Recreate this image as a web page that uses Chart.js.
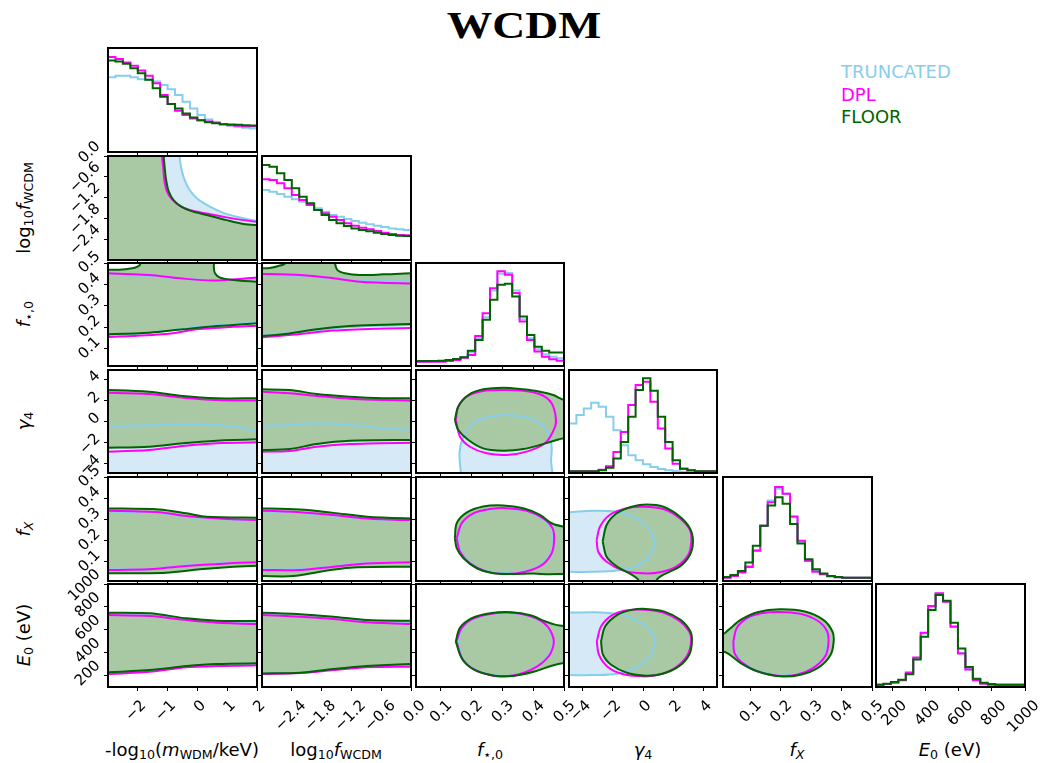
<!DOCTYPE html>
<html><head><meta charset="utf-8">
<script src="https://cdn.jsdelivr.net/npm/chart.js@4.4.1/dist/chart.umd.min.js"></script>
<style>
html,body{margin:0;padding:0;background:#fff;}
body{width:1044px;height:763px;position:relative;overflow:hidden;font-family:"DejaVu Sans",sans-serif;}
canvas{position:absolute;}
.t{position:absolute;white-space:nowrap;color:#000;font-size:18px;line-height:22px;text-align:center;width:220px;}
.t sub{font-size:70%;vertical-align:-0.25em;line-height:0;}
.r{transform:rotate(-90deg);}
#title{position:absolute;left:374px;top:6px;width:300px;text-align:center;font-family:"Liberation Serif",serif;font-weight:bold;font-size:38px;line-height:38px;transform:scaleX(1.2);}
#legend{position:absolute;left:841px;top:61px;font-size:18px;line-height:22.5px;}
</style></head><body>
<div id="title">WCDM</div>
<div id="legend"><div style="color:#87ceeb">TRUNCATED</div><div style="color:#ff00ff">DPL</div><div style="color:#006400">FLOOR</div></div>
<div class="t" style="left:72px;top:739px">-log<sub>10</sub>(<i>m</i><sub>WDM</sub>/keV)</div>
<div class="t" style="left:226px;top:739px">log<sub>10</sub><i>f</i><sub>WCDM</sub></div>
<div class="t" style="left:380px;top:739px"><i>f</i><sub>⋆,0</sub></div>
<div class="t" style="left:533px;top:739px"><i>γ</i><sub>4</sub></div>
<div class="t" style="left:687px;top:739px"><i>f</i><sub><i>X</i></sub></div>
<div class="t" style="left:840px;top:739px"><i>E</i><sub>0</sub> (eV)</div>
<div class="t r" style="left:-86px;top:197px">log<sub>10</sub><i>f</i><sub>WCDM</sub></div>
<div class="t r" style="left:-86px;top:303px"><i>f</i><sub>⋆,0</sub></div>
<div class="t r" style="left:-86px;top:410px"><i>γ</i><sub>4</sub></div>
<div class="t r" style="left:-86px;top:518px"><i>f</i><sub><i>X</i></sub></div>
<div class="t r" style="left:-86px;top:624px"><i>E</i><sub>0</sub> (eV)</div>
<script>
// ================= DATA =================
const axisMin = [-3, -3, 0.02, -4.9, 0.01, 100];
const axisMax = [2, 0, 0.5, 4.9, 0.5, 1000];
const tickValues = [[-2,-1,0,1,2],[-2.4,-1.8,-1.2,-0.6,0],[0.1,0.2,0.3,0.4,0.5],[-4,-2,0,2,4],[0.1,0.2,0.3,0.4,0.5],[200,400,600,800,1000]];
const tickLabels = [['−2','−1','0','1','2'],['−2.4','−1.8','−1.2','−0.6','0.0'],['0.1','0.2','0.3','0.4','0.5'],['−4','−2','0','2','4'],['0.1','0.2','0.3','0.4','0.5'],['200','400','600','800','1000']];

// 1D histograms (bin edges + normalised heights)
const edges00 = [-3,-2.75,-2.5,-2.25,-2,-1.75,-1.5,-1.25,-1,-0.75,-0.5,-0.25,0,0.25,0.5,0.75,1,1.25,1.5,1.75,2];
const h00_trunc = [0.719,0.732,0.732,0.719,0.700,0.694,0.677,0.645,0.603,0.548,0.484,0.419,0.355,0.313,0.287,0.268,0.255,0.242,0.232,0.226];
const h00_dpl   = [0.913,0.894,0.861,0.829,0.784,0.732,0.661,0.548,0.461,0.397,0.355,0.323,0.306,0.294,0.281,0.268,0.258,0.252,0.248,0.248];
const h00_floor = [0.881,0.871,0.848,0.806,0.758,0.694,0.613,0.532,0.461,0.419,0.371,0.332,0.306,0.287,0.277,0.268,0.265,0.261,0.258,0.255];

const edges11 = [-3,-2.85,-2.7,-2.55,-2.4,-2.25,-2.1,-1.95,-1.8,-1.65,-1.5,-1.35,-1.2,-1.05,-0.9,-0.75,-0.6,-0.45,-0.3,-0.15,0];
const h11_trunc = [0.673,0.657,0.635,0.609,0.583,0.561,0.529,0.497,0.465,0.433,0.417,0.394,0.375,0.359,0.343,0.330,0.317,0.304,0.295,0.288];
const h11_dpl   = [0.776,0.769,0.737,0.689,0.625,0.577,0.529,0.481,0.449,0.417,0.385,0.353,0.330,0.311,0.295,0.279,0.263,0.250,0.240,0.237];
const h11_floor = [0.913,0.897,0.833,0.769,0.689,0.609,0.545,0.481,0.433,0.385,0.353,0.327,0.304,0.288,0.276,0.263,0.250,0.240,0.234,0.231];

const edges22 = [0.02,0.044,0.068,0.092,0.116,0.14,0.164,0.188,0.212,0.236,0.26,0.284,0.308,0.332,0.356,0.38,0.404,0.428,0.452,0.476,0.5];
const h22_trunc = [0.042,0.042,0.045,0.049,0.058,0.068,0.084,0.130,0.269,0.474,0.734,0.896,0.903,0.734,0.455,0.269,0.162,0.114,0.091,0.075];
const h22_dpl   = [0.042,0.042,0.042,0.042,0.049,0.058,0.081,0.107,0.292,0.513,0.756,0.919,0.886,0.708,0.432,0.253,0.140,0.091,0.065,0.052];
const h22_floor = [0.049,0.049,0.049,0.052,0.058,0.068,0.084,0.149,0.253,0.448,0.643,0.789,0.799,0.675,0.481,0.302,0.188,0.149,0.130,0.130];

const edges33 = [-4.9,-4.41,-3.92,-3.43,-2.94,-2.45,-1.96,-1.47,-0.98,-0.49,0,0.49,0.98,1.47,1.96,2.45,2.94,3.43,3.92,4.41,4.9];
const h33_trunc = [0.481,0.562,0.627,0.682,0.643,0.545,0.416,0.269,0.172,0.123,0.084,0.058,0.039,0.026,0.016,0.010,0.006,0.003,0.003,0.003];
const h33_dpl   = [0.016,0.016,0.016,0.016,0.032,0.065,0.205,0.399,0.659,0.854,0.886,0.692,0.432,0.237,0.091,0.042,0.026,0.016,0.016,0.016];
const h33_floor = [0.016,0.016,0.016,0.016,0.026,0.052,0.140,0.302,0.545,0.805,0.919,0.799,0.545,0.302,0.123,0.042,0.026,0.016,0.016,0.016];

const edges44 = [0.01,0.0345,0.059,0.0835,0.108,0.1325,0.157,0.1815,0.206,0.2305,0.255,0.2795,0.304,0.3285,0.353,0.3775,0.402,0.4265,0.451,0.4755,0.5];
const h44_trunc = [0.032,0.048,0.087,0.145,0.297,0.532,0.774,0.887,0.839,0.613,0.371,0.194,0.097,0.065,0.045,0.035,0.032,0.032,0.032,0.032];
const h44_dpl   = [0.032,0.048,0.081,0.135,0.290,0.532,0.758,0.903,0.839,0.619,0.387,0.194,0.090,0.065,0.045,0.035,0.032,0.032,0.032,0.032];
const h44_floor = [0.039,0.058,0.097,0.177,0.339,0.532,0.726,0.806,0.742,0.548,0.361,0.210,0.113,0.071,0.048,0.039,0.032,0.032,0.032,0.032];

const edges55 = [100,145,190,235,280,325,370,415,460,505,550,595,640,685,730,775,820,865,910,955,1000];
const h55_trunc = [0.023,0.030,0.045,0.068,0.135,0.280,0.520,0.780,0.905,0.830,0.590,0.330,0.172,0.068,0.033,0.024,0.023,0.023,0.023,0.023];
const h55_dpl   = [0.023,0.029,0.042,0.065,0.140,0.286,0.526,0.786,0.909,0.828,0.584,0.325,0.169,0.065,0.032,0.023,0.023,0.023,0.023,0.023];
const h55_floor = [0.023,0.032,0.049,0.071,0.123,0.266,0.487,0.747,0.893,0.838,0.623,0.373,0.195,0.081,0.042,0.029,0.023,0.023,0.023,0.023];

// 2D credible-region outlines [x, y] (points outside the frame close the regions)
const c10_trunc = [[-0.60,0.3],[-0.60,0],[-0.54,-0.36],[-0.43,-0.69],[-0.26,-0.98],[0.02,-1.25],[0.42,-1.46],[0.87,-1.64],[1.32,-1.75],[2.0,-1.87],[2.4,-1.9],[2.4,-3.4],[-3.4,-3.4],[-3.4,0.3]];
const c10_dpl   = [[-1.19,0.3],[-1.19,0],[-1.15,-0.31],[-1.11,-0.69],[-1.02,-1.03],[-0.85,-1.25],[-0.60,-1.43],[-0.26,-1.56],[0.31,-1.66],[0.98,-1.77],[1.55,-1.85],[2.0,-1.90],[2.4,-1.92],[2.4,-3.4],[-3.4,-3.4],[-3.4,0.3]];
const c10_floor = [[-1.13,0.3],[-1.13,0],[-1.10,-0.31],[-1.05,-0.69],[-0.96,-1.03],[-0.80,-1.27],[-0.54,-1.46],[-0.20,-1.59],[0.31,-1.70],[0.98,-1.85],[1.55,-1.96],[2.0,-1.99],[2.4,-2.0],[2.4,-3.4],[-3.4,-3.4],[-3.4,0.3]];

const c20_trunc = [[-3.4,0.445],[-3,0.445],[-1.62,0.44],[-0.6,0.428],[0.53,0.42],[2.0,0.425],[2.4,0.425],[2.4,0.222],[2.0,0.222],[0.645,0.212],[-0.49,0.195],[-1.62,0.175],[-3,0.165],[-3.4,0.165]];
const c20_dpl   = [[-3.4,0.452],[-3,0.452],[-1.62,0.444],[-0.60,0.429],[0.53,0.418],[2.0,0.432],[2.4,0.435],[2.4,0.208],[2.0,0.208],[0.08,0.192],[-1.05,0.169],[-3,0.155],[-3.4,0.155]];
const c20_floor = [[-3.4,0.168],[-3,0.168],[-1.62,0.175],[-0.49,0.191],[0.645,0.206],[2.0,0.219],[2.4,0.222],[2.4,0.413],[2.0,0.413],[1.21,0.421],[0.76,0.432],[0.59,0.452],[0.55,0.483],[0.55,0.56],[-1.90,0.56],[-1.90,0.5],[-2.01,0.483],[-2.24,0.474],[-2.63,0.469],[-3.0,0.469],[-3.4,0.469]];

const c30_trunc = [[-3.4,-0.43],[-3,-0.43],[-1.62,-0.36],[-0.49,-0.27],[0.645,-0.33],[1.5,-0.6],[2.0,-0.9],[2.4,-1.0],[2.4,-5.5],[-3.4,-5.5]];
const c30_dpl   = [[-3.4,2.74],[-3,2.74],[-1.62,2.61],[-0.49,2.27],[0.645,2.05],[2.0,1.99],[2.4,1.99],[2.4,-1.98],[2.0,-1.98],[0.645,-2.07],[-0.49,-2.33],[-1.62,-2.71],[-3,-2.87],[-3.4,-2.87]];
const c30_floor = [[-3.4,3.0],[-3,3.0],[-1.62,2.84],[-0.49,2.43],[0.645,2.21],[2.0,2.21],[2.4,2.21],[2.4,-1.69],[2.0,-1.69],[0.645,-1.83],[-0.49,-2.07],[-1.62,-2.40],[-3,-2.49],[-3.4,-2.49]];

const c40_trunc = [[-3.4,0.337],[-3,0.337],[-1.28,0.33],[-0.37,0.313],[0.99,0.3],[2.0,0.295],[2.4,0.295],[2.4,0.1],[2.0,0.1],[0.99,0.095],[-0.49,0.083],[-1.62,0.068],[-3,0.065],[-3.4,0.065]];
const c40_dpl   = [[-3.4,0.341],[-3,0.341],[-1.28,0.334],[-0.37,0.316],[0.99,0.302],[2.0,0.297],[2.4,0.297],[2.4,0.098],[2.0,0.098],[0.99,0.093],[-0.49,0.080],[-1.62,0.065],[-3,0.062],[-3.4,0.062]];
const c40_floor = [[-3.4,0.352],[-3,0.352],[-1.28,0.347],[-0.37,0.329],[0.31,0.313],[2.0,0.308],[2.4,0.308],[2.4,0.082],[2.0,0.082],[1.21,0.077],[0.08,0.065],[-1.05,0.049],[-3,0.046],[-3.4,0.046]];

const c50_trunc = [[-3.4,735],[-3,735],[-1.6,725],[-0.36,690],[0.65,667],[2.0,655],[2.4,655],[2.4,295],[2.0,295],[0.65,290],[-0.36,278],[-1.6,240],[-3,220],[-3.4,220]];
const c50_dpl   = [[-3.4,729],[-3,729],[-1.6,720],[-0.36,685],[0.65,662],[2.0,650],[2.4,650],[2.4,289],[2.0,289],[0.65,283],[-0.36,272],[-1.6,233],[-3,213],[-3.4,213]];
const c50_floor = [[-3.4,749],[-3,749],[-1.6,744],[-0.36,700],[0.65,679],[2.0,677],[2.4,677],[2.4,307],[2.0,307],[0.65,301],[-0.36,283],[-1.6,248],[-3,228],[-3.4,228]];

const c21_trunc = [[-3.3,0.445],[-3,0.445],[-2.23,0.44],[-1.56,0.428],[-1.03,0.418],[0,0.415],[0.3,0.415],[0.3,0.21],[0,0.21],[-0.66,0.207],[-1.56,0.195],[-2.23,0.178],[-3,0.165],[-3.3,0.165]];
const c21_dpl   = [[-3.3,0.449],[-3,0.449],[-2.23,0.444],[-1.56,0.429],[-1.03,0.413],[0,0.405],[0.3,0.405],[0.3,0.197],[0,0.197],[-0.66,0.194],[-1.56,0.185],[-2.23,0.169],[-3,0.154],[-3.3,0.154]];
const c21_floor = [[-3.3,0.16],[-3,0.16],[-2.44,0.172],[-1.90,0.191],[-1.23,0.206],[-0.56,0.212],[0,0.216],[0.3,0.216],[0.3,0.452],[0,0.452],[-0.56,0.447],[-1.03,0.444],[-1.33,0.452],[-1.48,0.467],[-1.53,0.5],[-1.53,0.56],[-2.53,0.56],[-2.53,0.5],[-2.67,0.486],[-2.84,0.477],[-3,0.475],[-3.3,0.475]];

const c31_trunc = [[-3.3,-0.40],[-3,-0.40],[-2.44,-0.33],[-1.90,-0.17],[-1.23,-0.33],[-0.56,-0.65],[0,-0.81],[0.3,-0.85],[0.3,-5.5],[-3.3,-5.5]];
const c31_dpl   = [[-3.3,2.84],[-3,2.84],[-2.44,2.68],[-1.90,2.43],[-1.23,2.17],[0,1.98],[0.3,1.98],[0.3,-2.02],[0,-2.02],[-1.23,-2.14],[-1.90,-2.40],[-2.44,-2.81],[-3,-2.87],[-3.3,-2.87]];
const c31_floor = [[-3.3,3.06],[-3,3.06],[-2.44,3.0],[-1.90,2.62],[-1.23,2.36],[-0.56,2.21],[0,2.21],[0.3,2.21],[0.3,-1.76],[0,-1.76],[-1.23,-1.83],[-1.90,-2.14],[-2.44,-2.62],[-3,-2.71],[-3.3,-2.71]];

const c41_trunc = [[-3.3,0.337],[-3,0.337],[-2.23,0.33],[-1.56,0.318],[-0.89,0.302],[0,0.295],[0.3,0.295],[0.3,0.1],[0,0.1],[-0.89,0.095],[-1.56,0.08],[-2.23,0.066],[-3,0.065],[-3.3,0.065]];
const c41_dpl   = [[-3.3,0.341],[-3,0.341],[-2.23,0.334],[-1.56,0.321],[-0.89,0.305],[0,0.297],[0.3,0.297],[0.3,0.098],[0,0.098],[-0.89,0.093],[-1.56,0.077],[-2.23,0.062],[-3,0.062],[-3.3,0.062]];
const c41_floor = [[-3.3,0.352],[-3,0.352],[-2.23,0.347],[-1.56,0.331],[-0.89,0.313],[0,0.305],[0.3,0.305],[0.3,0.077],[0,0.077],[-1.23,0.073],[-1.83,0.054],[-2.37,0.033],[-3,0.033],[-3.3,0.033]];

const c51_trunc = [[-3.3,735],[-3,735],[-2.23,720],[-1.56,700],[-0.89,672],[0,658],[0.3,658],[0.3,292],[0,292],[-0.89,280],[-1.56,255],[-2.23,228],[-3,222],[-3.3,222]];
const c51_dpl   = [[-3.3,729],[-3,729],[-2.23,714],[-1.56,694],[-0.89,665],[0,650],[0.3,650],[0.3,277],[0,277],[-0.89,272],[-1.56,248],[-2.23,222],[-3,213],[-3.3,213]];
const c51_floor = [[-3.3,749],[-3,749],[-2.23,736],[-1.56,714],[-0.89,685],[0,679],[0.3,679],[0.3,301],[0,301],[-0.89,283],[-1.56,257],[-2.23,225],[-3,219],[-3.3,219]];

const c32_trunc = [[0.168,-5.5],[0.161,-3.03],[0.174,-1.45],[0.206,-0.17],[0.249,0.40],[0.303,0.62],[0.368,0.46],[0.422,-0.17],[0.449,-1.12],[0.46,-2.40],[0.458,-3.66],[0.455,-5.5]];
const c32_dpl   = [[0.149,0.14],[0.163,-1.45],[0.195,-2.40],[0.249,-3.03],[0.314,-3.19],[0.379,-2.87],[0.438,-2.08],[0.471,-0.5],[0.473,0.46],[0.46,1.73],[0.428,2.52],[0.368,2.93],[0.303,3.0],[0.238,2.9],[0.184,2.36],[0.157,1.41]];
const c32_floor = [[0.146,0.14],[0.157,1.41],[0.190,2.52],[0.238,3.06],[0.303,3.22],[0.368,3.06],[0.422,2.84],[0.465,2.52],[0.5,2.05],[0.54,1.95],[0.54,-1.65],[0.5,-1.60],[0.465,-1.86],[0.422,-2.24],[0.368,-2.62],[0.303,-2.78],[0.238,-2.56],[0.19,-1.76],[0.157,-0.81]];

const c42_trunc = [[0.155,0.211],[0.17,0.28],[0.207,0.326],[0.26,0.346],[0.314,0.35],[0.378,0.338],[0.43,0.303],[0.46,0.256],[0.465,0.203],[0.457,0.143],[0.426,0.088],[0.373,0.057],[0.314,0.047],[0.25,0.057],[0.197,0.095],[0.165,0.15]];
const c42_dpl   = [[0.152,0.211],[0.168,0.282],[0.206,0.329],[0.26,0.349],[0.314,0.353],[0.379,0.341],[0.433,0.305],[0.463,0.258],[0.468,0.203],[0.46,0.141],[0.428,0.085],[0.374,0.054],[0.314,0.043],[0.249,0.054],[0.195,0.093],[0.163,0.148]];
const c42_floor = [[0.146,0.211],[0.152,0.282],[0.184,0.332],[0.238,0.361],[0.303,0.366],[0.368,0.353],[0.422,0.322],[0.46,0.282],[0.5,0.266],[0.54,0.262],[0.54,0.043],[0.5,0.043],[0.45,0.042],[0.40,0.045],[0.336,0.043],[0.271,0.046],[0.217,0.07],[0.174,0.117],[0.152,0.165]];

const c52_trunc = [[0.155,498],[0.172,612],[0.21,698],[0.308,746],[0.392,713],[0.444,626],[0.463,498],[0.447,369],[0.392,254],[0.314,197],[0.237,226],[0.178,326]];
const c52_dpl   = [[0.151,498],[0.168,614],[0.208,701],[0.308,750],[0.394,716],[0.447,628],[0.467,498],[0.45,367],[0.394,251],[0.314,193],[0.235,222],[0.175,323]];
const c52_floor = [[0.149,498],[0.162,614],[0.201,701],[0.261,744],[0.328,753],[0.394,724],[0.44,672],[0.474,643],[0.5,634],[0.54,632],[0.54,309],[0.5,309],[0.46,286],[0.407,237],[0.341,199],[0.275,199],[0.208,251],[0.168,353]];

const c43_trunc = [[-5.4,0.334],[-4.9,0.334],[-3.29,0.341],[-1.74,0.336],[-0.64,0.313],[0.25,0.266],[0.74,0.203],[0.49,0.134],[-0.42,0.081],[-1.74,0.059],[-3.29,0.053],[-4.9,0.053],[-5.4,0.053]];
const c43_dpl   = [[-3.07,0.203],[-2.85,0.266],[-2.19,0.322],[-1.08,0.353],[0.03,0.36],[1.35,0.349],[2.45,0.305],[3.11,0.25],[3.2,0.197],[3.0,0.134],[2.23,0.079],[1.13,0.051],[0.03,0.046],[-1.3,0.059],[-2.41,0.101],[-2.96,0.148]];
const c43_floor = [[-2.67,0.197],[-2.41,0.274],[-1.74,0.329],[-0.75,0.36],[0.25,0.371],[1.35,0.36],[2.45,0.313],[3.11,0.258],[3.31,0.197],[3.11,0.134],[2.45,0.079],[1.35,0.04],[0.91,0.015],[0.9,-0.03],[-0.3,-0.03],[-0.31,0.015],[-0.75,0.04],[-1.74,0.079],[-2.41,0.124]];

const c53_trunc = [[-5.4,750],[-4.9,750],[-3.06,753],[-1.42,730],[-0.07,657],[0.61,570],[0.80,498],[0.53,382],[-0.34,280],[-1.70,216],[-3.32,204],[-4.9,204],[-5.4,204]];
const c53_dpl   = [[-3.06,498],[-2.78,628],[-2.11,721],[-1.15,768],[0.07,776],[1.29,753],[2.37,681],[3.06,585],[3.19,498],[2.92,373],[2.10,265],[1.02,207],[-0.07,193],[-1.42,216],[-2.37,280],[-2.92,382]];
const c53_floor = [[-2.78,498],[-2.51,628],[-1.70,730],[-0.75,774],[0.2,782],[1.42,759],[2.51,686],[3.14,585],[3.24,498],[3.06,382],[2.37,280],[1.29,216],[0.2,199],[-1.02,222],[-2.11,294],[-2.65,382]];

const c54_trunc = [[0.048,498],[0.058,612],[0.092,698],[0.137,740],[0.197,752],[0.264,736],[0.318,679],[0.348,593],[0.354,498],[0.344,375],[0.304,268],[0.251,211],[0.19,203],[0.125,240],[0.078,311],[0.051,397]];
const c54_dpl   = [[0.044,498],[0.055,614],[0.089,701],[0.136,744],[0.197,756],[0.265,739],[0.32,681],[0.351,594],[0.357,498],[0.347,373],[0.306,265],[0.252,207],[0.19,199],[0.123,237],[0.075,309],[0.048,396]];
const c54_floor = [[-0.03,562],[0.01,562],[0.028,599],[0.068,686],[0.123,753],[0.197,779],[0.279,759],[0.34,686],[0.37,585],[0.374,498],[0.364,382],[0.326,274],[0.265,207],[0.197,193],[0.123,237],[0.068,309],[0.028,390],[0.01,411],[-0.03,411]];

// ================= TABLES =================
const hists = {
  0:{edges:edges00, trunc:h00_trunc, dpl:h00_dpl, floor:h00_floor},
  1:{edges:edges11, trunc:h11_trunc, dpl:h11_dpl, floor:h11_floor},
  2:{edges:edges22, trunc:h22_trunc, dpl:h22_dpl, floor:h22_floor},
  3:{edges:edges33, trunc:h33_trunc, dpl:h33_dpl, floor:h33_floor},
  4:{edges:edges44, trunc:h44_trunc, dpl:h44_dpl, floor:h44_floor},
  5:{edges:edges55, trunc:h55_trunc, dpl:h55_dpl, floor:h55_floor}
};
const contours = {
  '10':{trunc:c10_trunc,dpl:c10_dpl,floor:c10_floor}, '20':{trunc:c20_trunc,dpl:c20_dpl,floor:c20_floor},
  '30':{trunc:c30_trunc,dpl:c30_dpl,floor:c30_floor}, '40':{trunc:c40_trunc,dpl:c40_dpl,floor:c40_floor},
  '50':{trunc:c50_trunc,dpl:c50_dpl,floor:c50_floor}, '21':{trunc:c21_trunc,dpl:c21_dpl,floor:c21_floor},
  '31':{trunc:c31_trunc,dpl:c31_dpl,floor:c31_floor}, '41':{trunc:c41_trunc,dpl:c41_dpl,floor:c41_floor},
  '51':{trunc:c51_trunc,dpl:c51_dpl,floor:c51_floor}, '32':{trunc:c32_trunc,dpl:c32_dpl,floor:c32_floor},
  '42':{trunc:c42_trunc,dpl:c42_dpl,floor:c42_floor}, '52':{trunc:c52_trunc,dpl:c52_dpl,floor:c52_floor},
  '43':{trunc:c43_trunc,dpl:c43_dpl,floor:c43_floor}, '53':{trunc:c53_trunc,dpl:c53_dpl,floor:c53_floor},
  '54':{trunc:c54_trunc,dpl:c54_dpl,floor:c54_floor}
};

// ================= STYLE / LAYOUT =================
const STY = {
  trunc:{line:'#87ceeb', fill:'#d5eaf6', order:2},
  dpl:{line:'#ff00ff', fill:null, order:1},
  floor:{line:'#006400', fill:'#a9c9a5', order:0}
};
const colPx = [[108,257],[262,411],[416,564],[569,717],[723,872],[876,1025]];
const rowPx = [[48,152],[156,260],[263,366],[370,473],[477,581],[584,687]];
const TICK_FONT = 15;
const xLabShift = [6, 12, 9, 6, 9, 12];
const yLabShift = [0, -12, -9, -6, -9, -12];

Chart.defaults.font.family = '"DejaVu Sans", sans-serif';
const framePlugin = {id:'frame', afterDraw(ch){const a=ch.chartArea,c=ch.ctx;c.save();c.strokeStyle='#000';c.lineWidth=2;c.strokeRect(a.left,a.top,a.right-a.left,a.bottom-a.top);c.restore();}};

function histSet(edges, vals, key){
  const s = STY[key];
  return {data: edges.map((e,k)=>({x:e, y:vals[Math.min(k, vals.length-1)]})), stepped:'before', borderColor:s.line, borderWidth:2, fill:false, pointRadius:0, order:s.order};
}
function contSet(poly, key){
  const s = STY[key];
  const pts = poly.map(p=>({x:p[0], y:p[1]}));
  pts.push({x:poly[0][0], y:poly[0][1]});
  return {data:pts, borderColor:s.line, borderWidth:2, backgroundColor:s.fill||'rgba(0,0,0,0)', fill: s.fill ? 'shape' : false, tension:0.3, pointRadius:0, order:s.order};
}

function axisCfg(v, pos, showLabels, showTicks, size, shift){
  return {
    type:'linear', position:pos, min:axisMin[v], max:axisMax[v], bounds:'data',
    grid:{display:showTicks, drawOnChartArea:false, drawTicks:true, tickLength:4, color:'#000', lineWidth:1},
    border:{display:false},
    ticks:{display:showLabels, autoSkip:false, minRotation:45, maxRotation:45, padding:6, color:'#000', font:{size:TICK_FONT}, labelOffset:shift,
           callback:(val, idx)=>tickLabels[v][idx]},
    afterBuildTicks: ax => { ax.ticks = tickValues[v].map(t=>({value:t})); },
    afterFit: ax => { if (pos==='bottom') ax.height = size; else ax.width = size; ax.paddingLeft=0; ax.paddingRight=0; ax.paddingTop=0; ax.paddingBottom=0; }
  };
}

function panel(i, j){
  const [x0,x1] = colPx[j], [y0,y1] = rowPx[i];
  const padL = j===0 ? x0 : 8, padT = j===0 ? 24 : 4, padR = i===5 ? 26 : 4, padB = i===5 ? 76 : 8;
  const W = x1-x0+padL+padR, H = y1-y0+padT+padB;
  const cv = document.createElement('canvas');
  cv.width = W; cv.height = H;
  cv.style.left = (x0-padL)+'px'; cv.style.top = (y0-padT)+'px';
  cv.style.width = W+'px'; cv.style.height = H+'px';
  document.body.appendChild(cv);
  let datasets, yScale;
  if (i===j){
    const h = hists[i];
    datasets = ['trunc','dpl','floor'].map(k=>histSet(h.edges, h[k], k));
    yScale = {type:'linear', position:'left', min:0, max:1, grid:{display:false}, border:{display:false}, ticks:{display:false},
              afterFit: ax => { ax.width = padL; ax.paddingTop=0; ax.paddingBottom=0; ax.paddingLeft=0; ax.paddingRight=0; }};
  } else {
    const c = contours[''+i+j];
    datasets = ['trunc','dpl','floor'].map(k=>contSet(c[k], k));
    yScale = axisCfg(i, 'left', j===0, true, padL, yLabShift[i]);
  }
  new Chart(cv, {
    type:'line',
    data:{datasets},
    options:{
      responsive:false, maintainAspectRatio:false, animation:false, devicePixelRatio:1,
      layout:{padding:{top:padT, right:padR, left:0, bottom:0}},
      elements:{point:{radius:0}, line:{capBezierPoints:false}},
      plugins:{legend:{display:false}, tooltip:{enabled:false}, filler:{drawTime:'beforeDatasetsDraw'}},
      scales:{ x: axisCfg(j, 'bottom', i===5, true, padB, xLabShift[j]), y: yScale }
    },
    plugins:[framePlugin]
  });
}
for (let i=0;i<6;i++) for (let j=0;j<=i;j++) panel(i,j);
</script>
</body></html>
